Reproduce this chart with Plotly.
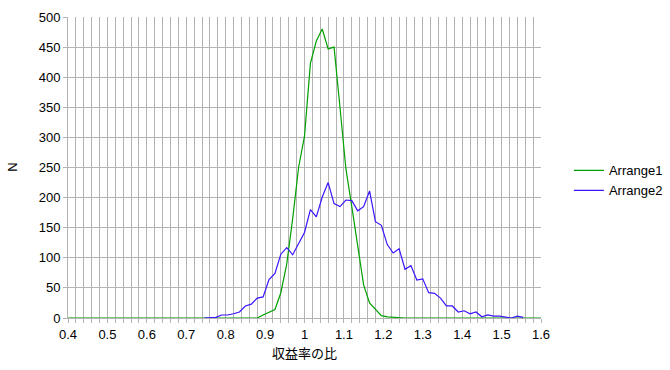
import plotly.graph_objects as go

# x bins (step 0.015)
x_vals = [0.4, 0.415, 0.43, 0.445, 0.46, 0.475, 0.49, 0.505, 0.52, 0.535,
          0.55, 0.565, 0.58, 0.595, 0.61, 0.625, 0.64, 0.655, 0.67, 0.685,
          0.7, 0.715, 0.73, 0.745, 0.76, 0.775, 0.79, 0.805, 0.82, 0.835,
          0.85, 0.865, 0.88, 0.895, 0.91, 0.925, 0.94, 0.955, 0.97, 0.985,
          1.0, 1.015, 1.03, 1.045, 1.06, 1.075, 1.09, 1.105, 1.12, 1.135,
          1.15, 1.165, 1.18, 1.195, 1.21, 1.225, 1.24, 1.255, 1.27, 1.285,
          1.3, 1.315, 1.33, 1.345, 1.36, 1.375, 1.39, 1.405, 1.42, 1.435,
          1.45, 1.465, 1.48, 1.495, 1.51, 1.525, 1.54, 1.555, 1.57, 1.585, 1.6]

arrange1 = [0, 0, 0, 0, 0, 0, 0, 0, 0, 0,
            0, 0, 0, 0, 0, 0, 0, 0, 0, 0,
            0, 0, 0, 0, 0, 0, 0, 0, 0, 0,
            0, 0, 0, 5, 9, 14, 42, 90, 165, 250,
            302, 423, 460, 480, 447, 450, 350, 248, 185, 120,
            55, 25, 15, 4, 2, 1, 1, 0, 0, 0,
            0, 0, 0, 0, 0, 0, 0, 0, 0, 0,
            0, 0, 0, 0, 0, 0, 0, 0, 0, 0, 0]

arrange2 = [None, None, None, None, None, None, None, None, None, None,
            None, None, None, None, None, None, None, None, None, None,
            None, None, None, 0, 1, 1, 5, 5, 7, 10,
            20, 23, 33, 35, 64, 74, 106, 117, 105, 124,
            142, 180, 168, 201, 225, 190, 185, 196, 195, 178,
            185, 211, 160, 154, 122, 108, 115, 81, 87, 63,
            65, 42, 41, 33, 20, 20, 10, 12, 7, 10,
            2, 5, 3, 3, 1, 0, 3, 1, None, None, None]

series_names = ["Arrange1", "Arrange2"]
x_title = "収益率の比"
y_title = "N"

FONT = "Liberation Sans, Arial, Noto Sans CJK JP, sans-serif"
GRID = "#b3b3b3"

fig = go.Figure()
fig.add_trace(go.Scatter(x=x_vals, y=arrange1, mode="lines", name=series_names[0],
                         line=dict(color="#00a000", width=1.2), connectgaps=False))
fig.add_trace(go.Scatter(x=x_vals, y=arrange2, mode="lines", name=series_names[1],
                         line=dict(color="#3c14ff", width=1.2), connectgaps=False))

fig.update_layout(
    width=670, height=370,
    margin=dict(l=68, r=129, t=17, b=52, autoexpand=False),
    paper_bgcolor="white", plot_bgcolor="white",
    font=dict(family=FONT, size=13, color="black"),
    legend=dict(x=1.059, y=0.457, xanchor="left", yanchor="middle",
                font=dict(size=13), tracegroupgap=0, itemwidth=30),
    showlegend=True,
    annotations=[dict(text=y_title, xref="paper", yref="paper",
                      x=-0.118, y=0.5, xanchor="center", yanchor="middle",
                      textangle=-90, showarrow=False, font=dict(size=13))],
)
fig.update_xaxes(
    range=[0.4, 1.6], tick0=0.4, dtick=0.1, tickformat="~g",
    showgrid=True, gridcolor=GRID, gridwidth=1,
    ticks="outside", ticklen=4, tickcolor=GRID,
    minor=dict(dtick=0.02, tick0=0.4, showgrid=True, gridcolor=GRID, gridwidth=1,
               ticks="outside", ticklen=4, tickcolor=GRID),
    showline=True, linecolor=GRID, linewidth=1, zeroline=False, automargin=False,
    title=dict(text=x_title, font=dict(size=13), standoff=8),
    tickfont=dict(size=13),
)
fig.update_yaxes(
    range=[0, 500], dtick=50,
    showgrid=True, gridcolor=GRID, gridwidth=1,
    ticks="outside", ticklen=4, tickcolor=GRID,
    showline=True, linecolor=GRID, linewidth=1, zeroline=False, automargin=False,
    tickfont=dict(size=13),
)

fig.write_html(
    "out.html",
    config={"displayModeBar": False},
    post_script="document.body.style.margin='0';document.body.style.overflow='hidden';",
)
